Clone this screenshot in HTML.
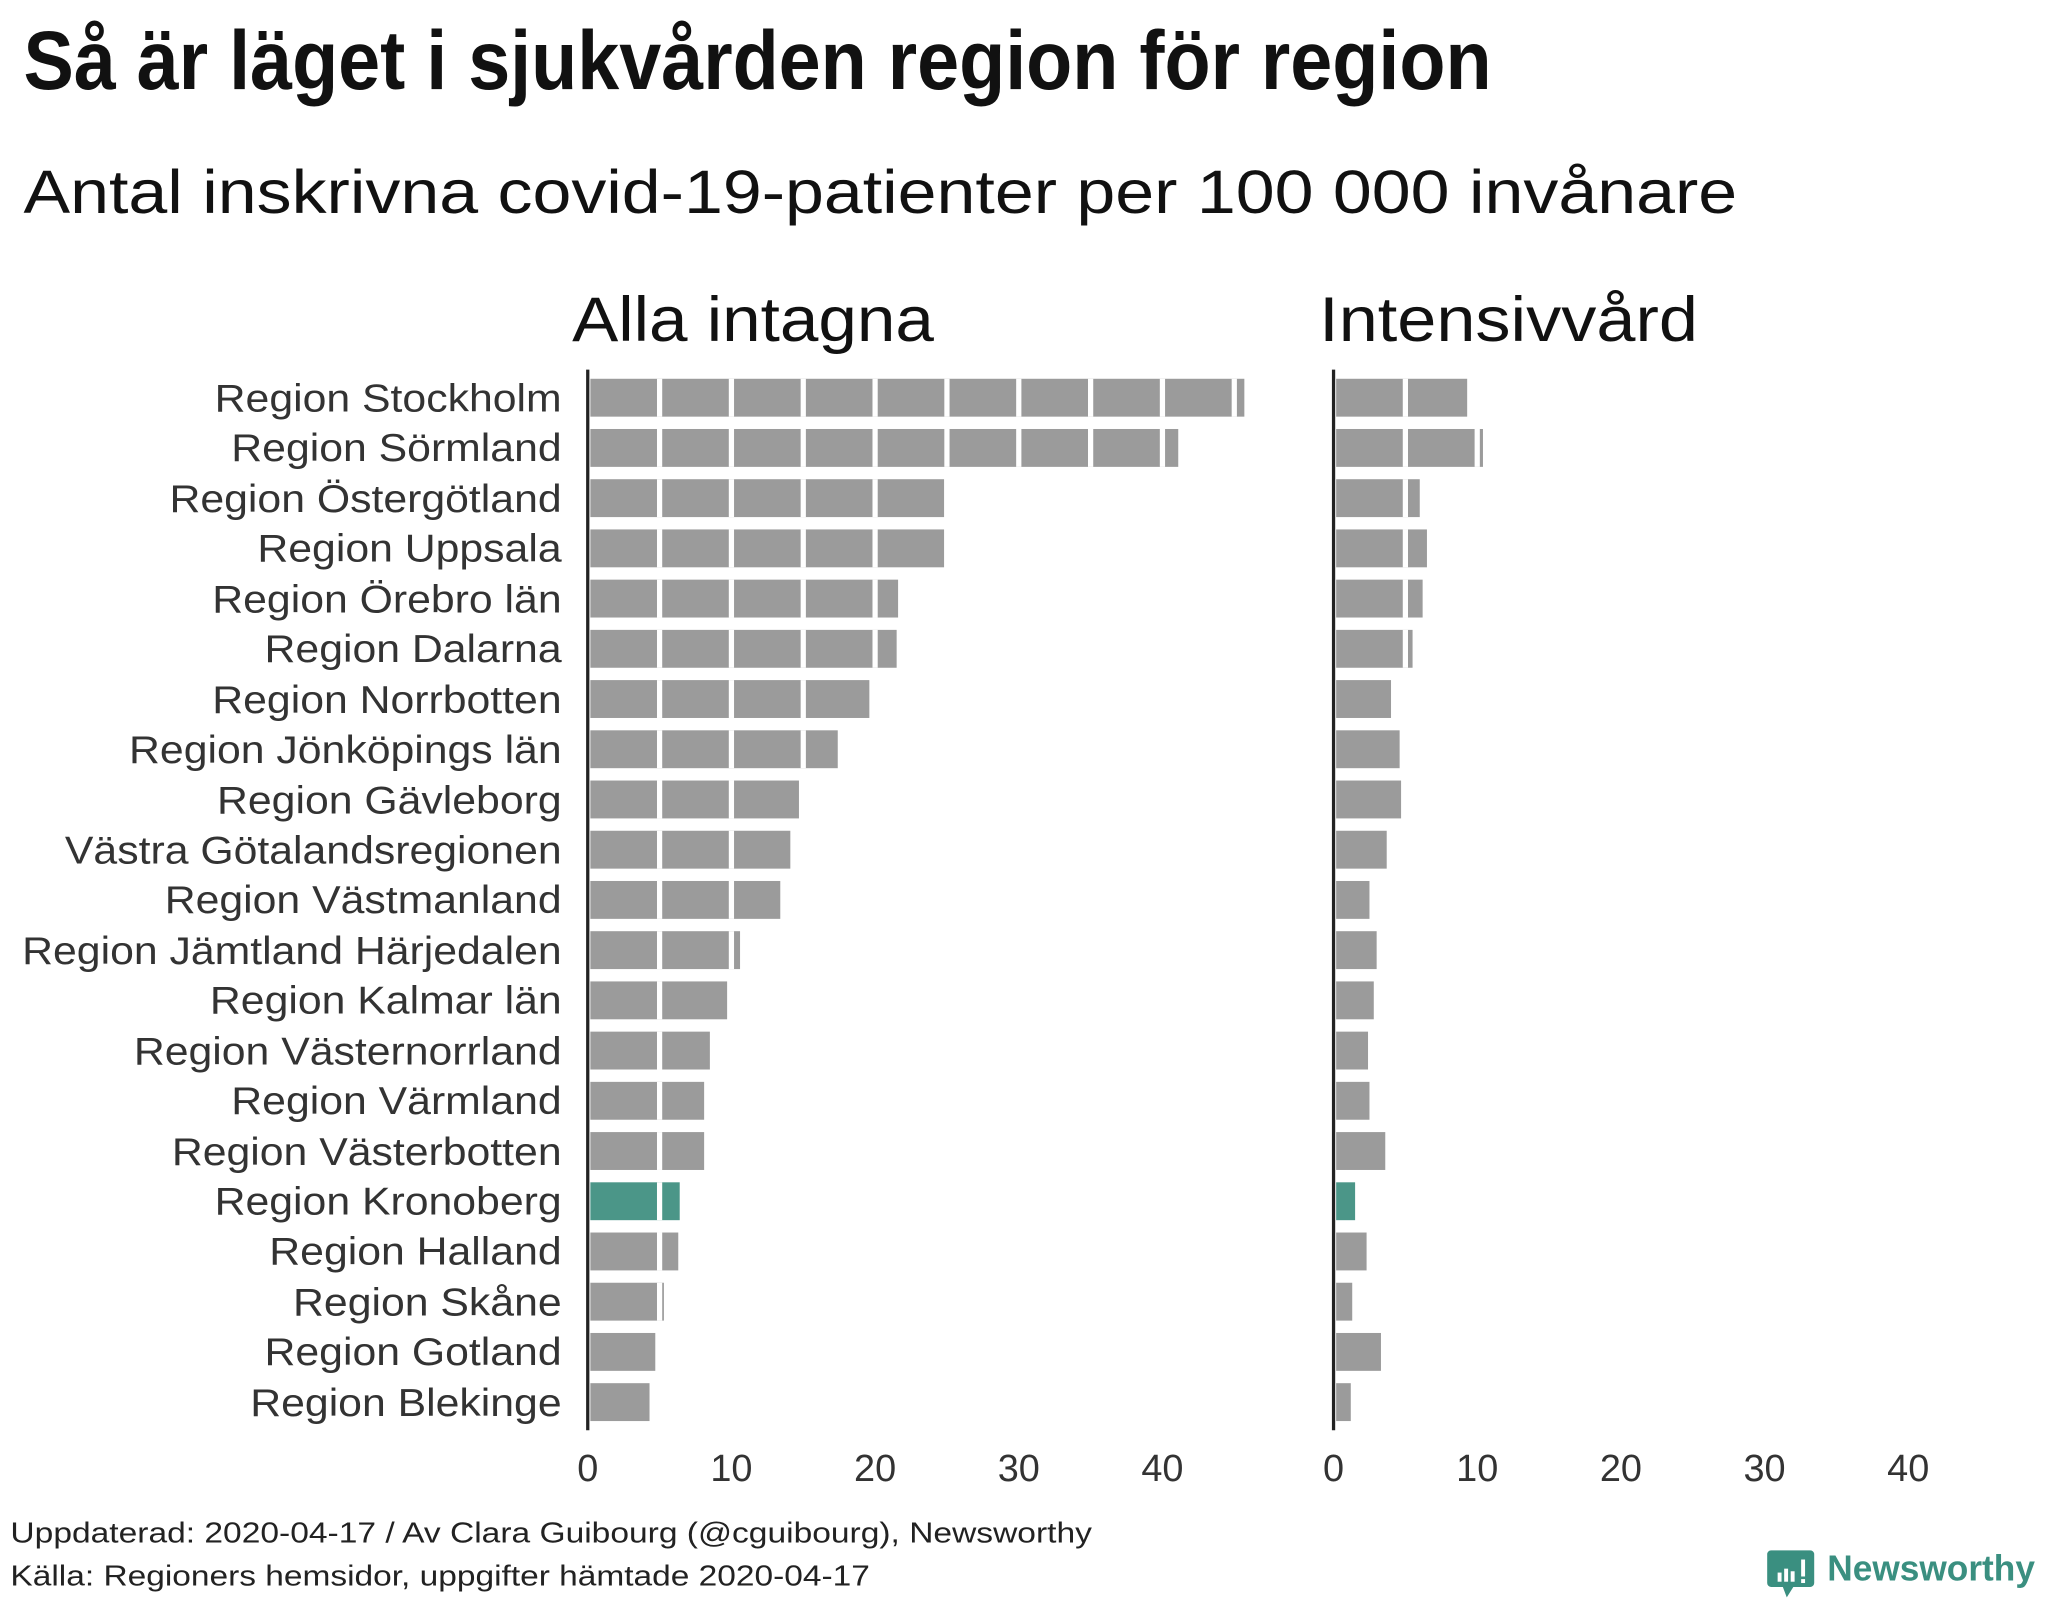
<!DOCTYPE html>
<html><head><meta charset="utf-8"><style>
html,body{margin:0;padding:0;background:#fff;}
svg{display:block;}
text{font-family:"Liberation Sans",sans-serif;}
</style></head><body>
<svg id="s" width="2048" height="1600" viewBox="0 0 1568 1225" xmlns="http://www.w3.org/2000/svg">
<rect width="1568" height="1225" fill="#fff"/>
<text x="18" y="68" font-size="64" font-weight="bold" fill="#111" textLength="1124" lengthAdjust="spacingAndGlyphs">Så är läget i sjukvården region för region</text>
<text x="18" y="163" font-size="47" fill="#111" textLength="1312" lengthAdjust="spacingAndGlyphs">Antal inskrivna covid-19-patienter per 100 000 invånare</text>
<text x="438" y="261" font-size="48" fill="#111" textLength="277" lengthAdjust="spacingAndGlyphs">Alla intagna</text>
<text x="1010" y="261" font-size="48" fill="#111" textLength="290" lengthAdjust="spacingAndGlyphs">Intensivvård</text>
<g id="bars"></g>
<line x1="450" y1="283" x2="450" y2="1095" stroke="#222" stroke-width="2.5"/>
<line x1="1021" y1="283" x2="1021" y2="1095" stroke="#222" stroke-width="2.5"/>
<g font-size="29.5" fill="#333" text-anchor="end" transform="translate(430,0) scale(1.11,1) translate(-430,0)">
<text x="430" y="315">Region Stockholm</text>
<text x="430" y="353">Region Sörmland</text>
<text x="430" y="392">Region Östergötland</text>
<text x="430" y="430">Region Uppsala</text>
<text x="430" y="469">Region Örebro län</text>
<text x="430" y="507">Region Dalarna</text>
<text x="430" y="546">Region Norrbotten</text>
<text x="430" y="584">Region Jönköpings län</text>
<text x="430" y="623">Region Gävleborg</text>
<text x="430" y="661">Västra Götalandsregionen</text>
<text x="430" y="699">Region Västmanland</text>
<text x="430" y="738">Region Jämtland Härjedalen</text>
<text x="430" y="776">Region Kalmar län</text>
<text x="430" y="815">Region Västernorrland</text>
<text x="430" y="853">Region Värmland</text>
<text x="430" y="892">Region Västerbotten</text>
<text x="430" y="930">Region Kronoberg</text>
<text x="430" y="968">Region Halland</text>
<text x="430" y="1007">Region Skåne</text>
<text x="430" y="1045">Region Gotland</text>
<text x="430" y="1084">Region Blekinge</text>
</g>
<g font-size="29" fill="#333" text-anchor="middle">
<text x="450" y="1134">0</text><text x="560" y="1134">10</text><text x="670" y="1134">20</text><text x="780" y="1134">30</text><text x="890" y="1134">40</text>
<text x="1021" y="1134">0</text><text x="1131" y="1134">10</text><text x="1241" y="1134">20</text><text x="1351" y="1134">30</text><text x="1461" y="1134">40</text>
</g>
<g font-size="22" fill="#222">
<text x="8" y="1181" textLength="828" lengthAdjust="spacingAndGlyphs">Uppdaterad: 2020-04-17 / Av Clara Guibourg (@cguibourg), Newsworthy</text>
<text x="8" y="1214" textLength="658" lengthAdjust="spacingAndGlyphs">Källa: Regioners hemsidor, uppgifter hämtade 2020-04-17</text>
</g>
<g>
<path d="M1356 1187 h30 a3 3 0 0 1 3 3 v22 a3 3 0 0 1 -3 3 h-13 l-5 8 l-3 -8 h-9 a3 3 0 0 1 -3 -3 v-22 a3 3 0 0 1 3 -3z" fill="#3a8f80"/>
<rect x="1361" y="1204" width="3" height="7" fill="#fff"/><rect x="1366" y="1201" width="3" height="10" fill="#fff"/><rect x="1371" y="1203" width="3" height="8" fill="#fff"/><rect x="1379" y="1194" width="3" height="13" fill="#fff"/><rect x="1379" y="1209" width="3" height="3" fill="#fff"/>
<text x="1399" y="1210" font-size="28" font-weight="bold" fill="#3a8f80" textLength="159" lengthAdjust="spacingAndGlyphs">Newsworthy</text>
</g>
</svg>
<script>
var L=[45.7,41.1,24.8,24.8,21.6,21.5,19.6,17.4,14.7,14.1,13.4,10.6,9.7,8.5,8.1,8.1,6.4,6.3,5.3,4.7,4.3];
var R=[9.3,10.4,6.0,6.5,6.2,5.5,4.0,4.6,4.7,3.7,2.5,3.0,2.8,2.4,2.5,3.6,1.5,2.3,1.3,3.3,1.2];
var g=document.getElementById('bars'),h='';
function bar(x0,v,y,c){var w=v*11-2;h+='<rect x="'+(x0+2)+'" y="'+y+'" width="'+w+'" height="29" fill="'+c+'"/>';
for(var k=5;k<v;k+=5){h+='<rect x="'+(x0+k*11-2)+'" y="'+y+'" width="4" height="29" fill="#fff"/>';}}
for(var i=0;i<21;i++){var y=290+i*38.45,c=i==16?'#4b9688':'#9b9b9b';bar(450,L[i],y,c);bar(1021,R[i],y,c);}
g.innerHTML=h;
</script>
</body></html>
